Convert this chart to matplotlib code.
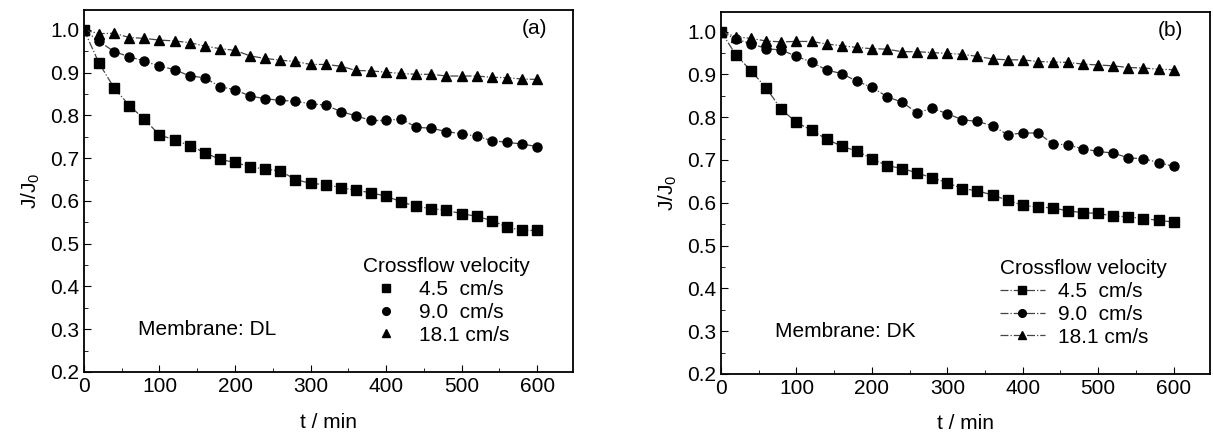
import matplotlib
matplotlib.use('Agg')
import matplotlib.pyplot as plt
from matplotlib.ticker import MultipleLocator

plt.rcParams['font.family'] = ['Liberation Sans', 'DejaVu Sans']

t = list(range(0, 601, 20))

# panel (a) membrane DL
dl_45 = [1.0, 0.922, 0.864, 0.823, 0.791, 0.754, 0.743, 0.729, 0.713, 0.697, 0.690,
         0.680, 0.674, 0.670, 0.650, 0.641, 0.638, 0.631, 0.625, 0.619, 0.611,
         0.598, 0.587, 0.582, 0.578, 0.570, 0.564, 0.554, 0.539, 0.531, 0.531]
dl_90 = [1.0, 0.973, 0.949, 0.937, 0.927, 0.915, 0.907, 0.892, 0.888, 0.867, 0.860,
         0.845, 0.839, 0.835, 0.833, 0.827, 0.824, 0.809, 0.799, 0.788, 0.788,
         0.792, 0.772, 0.770, 0.762, 0.757, 0.751, 0.741, 0.737, 0.733, 0.727]
dl_181 = [1.0, 0.991, 0.992, 0.982, 0.980, 0.976, 0.974, 0.970, 0.962, 0.956, 0.952,
          0.939, 0.933, 0.929, 0.926, 0.919, 0.919, 0.915, 0.905, 0.904, 0.901,
          0.898, 0.896, 0.896, 0.892, 0.892, 0.892, 0.889, 0.888, 0.885, 0.884]

# panel (b) membrane DK
dk_45 = [1.0, 0.945, 0.908, 0.868, 0.818, 0.788, 0.769, 0.749, 0.732, 0.721, 0.703,
         0.687, 0.680, 0.670, 0.658, 0.647, 0.633, 0.628, 0.618, 0.606, 0.594,
         0.590, 0.588, 0.581, 0.577, 0.575, 0.569, 0.567, 0.563, 0.559, 0.555]
dk_90 = [1.0, 0.982, 0.972, 0.960, 0.957, 0.942, 0.929, 0.910, 0.902, 0.884, 0.870,
         0.848, 0.835, 0.810, 0.821, 0.808, 0.794, 0.790, 0.780, 0.759, 0.763,
         0.763, 0.738, 0.735, 0.726, 0.720, 0.716, 0.705, 0.703, 0.694, 0.685]
dk_181 = [1.0, 0.988, 0.984, 0.978, 0.976, 0.977, 0.977, 0.971, 0.967, 0.963, 0.960,
          0.959, 0.953, 0.953, 0.951, 0.949, 0.947, 0.942, 0.936, 0.934, 0.934,
          0.930, 0.929, 0.928, 0.924, 0.922, 0.920, 0.916, 0.915, 0.912, 0.911]

labels = ['4.5  cm/s', '9.0  cm/s', '18.1 cm/s']
markers = ['s', 'o', '^']
FS = 15

fig = plt.figure(figsize=(12.13, 4.41), dpi=100)
axA = fig.add_axes([0.0692, 0.1565, 0.4035, 0.8205])
axB = fig.add_axes([0.5944, 0.152, 0.403, 0.821])


def panel(ax, series, membrane, tag, handlelen, textpad, legend_lines):
    hs = []
    for y, m, lab in zip(series, markers, labels):
        h, = ax.plot(t, y, ls='-.', lw=0.9, color='#444444', marker=m, ms=6.5,
                     mfc='black', mec='black', label=lab)
        hs.append(h)
    ax.set_xlim(0, 648)
    ax.set_ylim(0.2, 1.046)
    ax.xaxis.set_major_locator(MultipleLocator(100))
    ax.xaxis.set_minor_locator(MultipleLocator(50))
    ax.yaxis.set_major_locator(MultipleLocator(0.1))
    ax.yaxis.set_minor_locator(MultipleLocator(0.05))
    ax.tick_params(which='both', direction='in', top=False, right=False, labelsize=FS)
    ax.tick_params(which='major', length=5)
    ax.tick_params(which='minor', length=3)
    ax.set_yticks([0.2, 0.3, 0.4, 0.5, 0.6, 0.7, 0.8, 0.9, 1.0])
    ax.set_yticklabels(['0.2', '0.3', '0.4', '0.5', '0.6', '0.7', '0.8', '0.9', '1.0'])
    for s in ax.spines.values():
        s.set_linewidth(1.3)
    ax.set_xlabel('t / min', fontsize=FS, labelpad=12)
    ax.set_ylabel('J/J$_\\mathregular{0}$', fontsize=FS, labelpad=6)
    ax.text(0.92, 0.95, tag, transform=ax.transAxes, fontsize=FS, ha='center', va='center')
    ax.text(0.11, 0.118, membrane, transform=ax.transAxes, fontsize=FS, ha='left', va='center')
    leg = ax.legend(handles=hs, title='Crossflow velocity', loc='lower left',
                    bbox_to_anchor=(0.54, 0.035), frameon=False, fontsize=FS,
                    title_fontsize=FS, handlelength=handlelen, handletextpad=textpad,
                    labelspacing=0.18, borderpad=0.2, markerscale=0.85)
    leg._legend_box.align = 'left'
    if not legend_lines:
        for ln in leg.get_lines():
            ln.set_linestyle('none')


panel(axA, [dl_45, dl_90, dl_181], 'Membrane: DL', '(a)', 2.2, 0.5, False)
panel(axB, [dk_45, dk_90, dk_181], 'Membrane: DK', '(b)', 2.2, 0.6, True)

fig.savefig('out.png', dpi=100)
